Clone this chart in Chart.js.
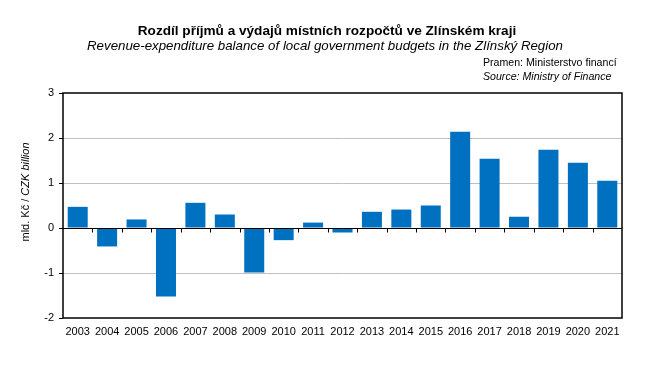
<!DOCTYPE html>
<html>
<head>
<meta charset="utf-8">
<script src="https://cdn.jsdelivr.net/npm/chart.js@4/dist/chart.umd.min.js"></script>
<style>
  html, body { margin: 0; padding: 0; background: #fff; }
  #wrap { position: relative; width: 664px; height: 378px; }
</style>
</head>
<body>
<div id="wrap"><canvas id="chart" width="664" height="378"></canvas></div>
<script>
const years = ["2003", "2004", "2005", "2006", "2007", "2008", "2009", "2010", "2011", "2012",
  "2013", "2014", "2015", "2016", "2017", "2018", "2019", "2020", "2021"];
const balance = [0.47, -0.41, 0.19, -1.52, 0.56, 0.30, -0.99, -0.27, 0.12, -0.10,
  0.36, 0.41, 0.50, 2.14, 1.54, 0.25, 1.74, 1.45, 1.05];
const yTicks = [-2, -1, 0, 1, 2, 3];

const titleCz = "Rozdíl příjmů a výdajů místních rozpočtů ve Zlínském kraji";
const titleEn = "Revenue-expenditure balance of local government budgets in the Zlínský Region";
const sourceCz = "Pramen: Ministerstvo financí";
const sourceEn = "Source: Ministry of Finance";

const FONT = "'Liberation Sans', Arial, sans-serif";

// texts, frame, zero line and the small ticks on it
const decor = {
  id: "decor",
  afterDatasetsDraw(chart) {
    const { ctx, chartArea: a, scales } = chart;
    const y0 = Math.round(scales.y.getPixelForValue(0)) + 0.5;
    ctx.save();
    ctx.strokeStyle = "#000";
    ctx.lineWidth = 1;
    ctx.beginPath();
    ctx.moveTo(a.left, y0);
    ctx.lineTo(a.right, y0);
    const step = (a.right - a.left) / years.length;
    for (let i = 1; i < years.length; i++) {
      const x = Math.round(a.left + i * step) + 0.5;
      ctx.moveTo(x, y0);
      ctx.lineTo(x, y0 + 4);
    }
    ctx.stroke();
    ctx.lineWidth = 1.5;
    ctx.strokeRect(a.left, a.top, a.right - a.left, a.bottom - a.top);
    ctx.restore();
  },
  afterDraw(chart) {
    const { ctx } = chart;
    ctx.save();
    ctx.fillStyle = "#000";
    ctx.textBaseline = "middle";
    ctx.textAlign = "center";
    ctx.font = "bold 13.6px " + FONT;
    ctx.fillText(titleCz, 327, 31);
    ctx.font = "italic 13.3px " + FONT;
    ctx.fillText(titleEn, 325, 46);
    ctx.textAlign = "left";
    ctx.font = "10.6px " + FONT;
    ctx.fillText(sourceCz, 483, 63);
    ctx.font = "italic 10.6px " + FONT;
    ctx.fillText(sourceEn, 483, 77);

    // rotated axis title, second half italic
    ctx.translate(26, 192);
    ctx.rotate(-Math.PI / 2);
    const p1 = "mld. Kč / ";
    const p2 = "CZK billion";
    ctx.font = "11px " + FONT;
    const w1 = ctx.measureText(p1).width;
    ctx.font = "italic 11px " + FONT;
    const w2 = ctx.measureText(p2).width;
    const start = -(w1 + w2) / 2;
    ctx.font = "11px " + FONT;
    ctx.fillText(p1, start, 0);
    ctx.font = "italic 11px " + FONT;
    ctx.fillText(p2, start + w1, 0);
    ctx.restore();
  }
};

new Chart(document.getElementById("chart"), {
  type: "bar",
  data: {
    labels: years,
    datasets: [{
      data: balance,
      backgroundColor: "#0070C0",
      borderWidth: 0,
      barPercentage: 0.68,
      categoryPercentage: 1.0
    }]
  },
  options: {
    responsive: false,
    animation: false,
    layout: { padding: { top: 93, right: 42, left: 0, bottom: 0 } },
    plugins: {
      legend: { display: false },
      tooltip: { enabled: false },
      title: { display: false }
    },
    scales: {
      x: {
        grid: { display: false, drawTicks: false },
        border: { display: false },
        ticks: { color: "#000", font: { family: FONT, size: 11 }, padding: 7, maxRotation: 0, autoSkip: false },
        afterFit(s) { s.height = 60; }
      },
      y: {
        min: -2,
        max: 3,
        afterBuildTicks(s) { s.ticks = yTicks.map(v => ({ value: v })); },
        grid: {
          color: c => (c.tick && (c.tick.value === 0 || c.tick.value === -2 || c.tick.value === 3)) ? "rgba(0,0,0,0)" : "#c0c0c0",
          tickColor: "#000",
          tickLength: 4,
          lineWidth: 1
        },
        border: { display: false },
        ticks: { color: "#000", font: { family: FONT, size: 11 }, padding: 5 },
        afterFit(s) { s.width = 63; }
      }
    }
  },
  plugins: [decor]
});
</script>
</body>
</html>
